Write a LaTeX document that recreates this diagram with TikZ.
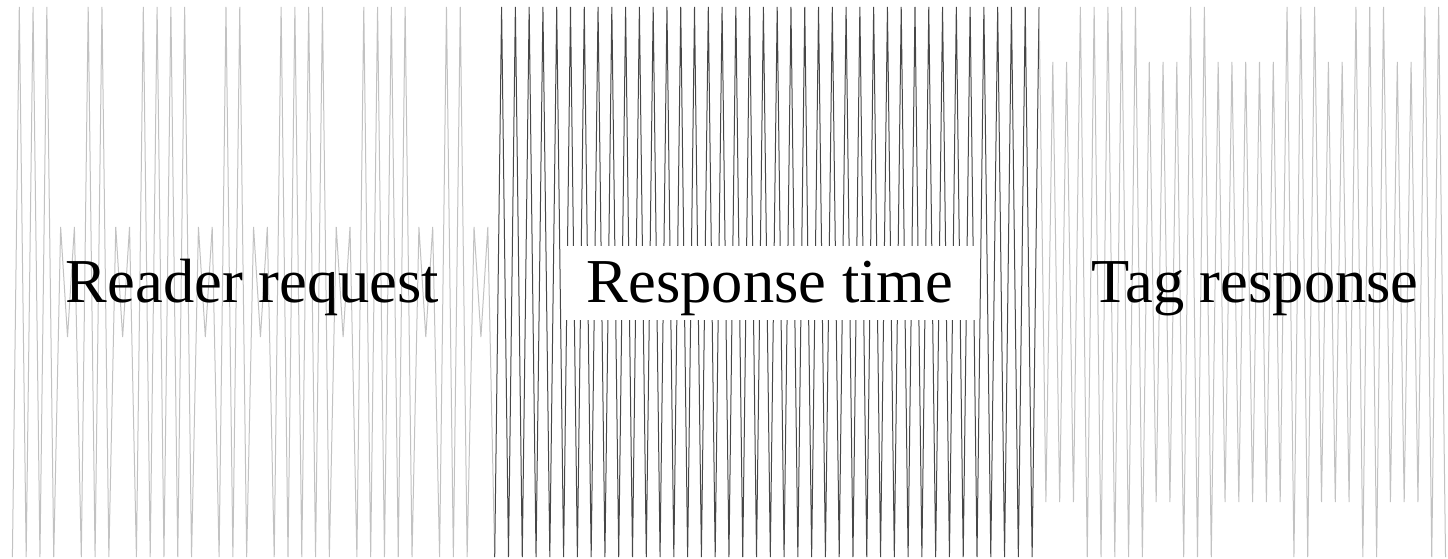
\documentclass[tikz,border=0pt]{standalone}
\usepackage{fontspec}
\setmainfont{Liberation Serif}
\usetikzlibrary{positioning}

\definecolor{lightline}{gray}{0.76}
\definecolor{darkline}{gray}{0.28}

\begin{document}
\begin{tikzpicture}[
    x=1pt, y=-1pt,
    declare function={
      inr(\t,\a,\b) = and(\t>=\a,\t<=\b);
      amp(\t) = 275
        - 220*(inr(\t,7,9)+inr(\t,15,17)+inr(\t,27,29)+inr(\t,35,37)
               +inr(\t,47,49)+inr(\t,59,61)+inr(\t,67,69))
        - 55*(inr(\t,150,154)+inr(\t,165,169)+inr(\t,175,184)
              +inr(\t,190,194)+inr(\t,200,204));
    },
    wave/.style={draw=lightline, line width=1pt},
    gapwave/.style={draw=darkline, line width=1pt},
    label/.style={font=\fontsize{62.5}{70}\selectfont, anchor=base, inner sep=0pt}
]
\useasboundingbox (0,0) rectangle (1448,558);

% samples of the carrier, alternately low and high
\foreach \j in {0,...,208}
  \coordinate (s\j) at ({12.4+6.89*\j},{282+amp(\j)*(1-2*mod(\j,2))});

\draw[wave] (s0) \foreach \j in {1,...,70} {-- (s\j)};
\draw[gapwave] (s70) \foreach \j in {71,...,149} {-- (s\j)};
\draw[wave] (s149) \foreach \j in {150,...,208} {-- (s\j)};

\node[label] (req) at (252.5,302) {Reader request};
\node[label, fill=white, inner xsep=23pt, inner ysep=9pt, text height=47pt, text depth=9pt] (gap) at (770,302) {Response time};
\node[label] (tag) at (1255,302) {Tag response};
\end{tikzpicture}
\end{document}
